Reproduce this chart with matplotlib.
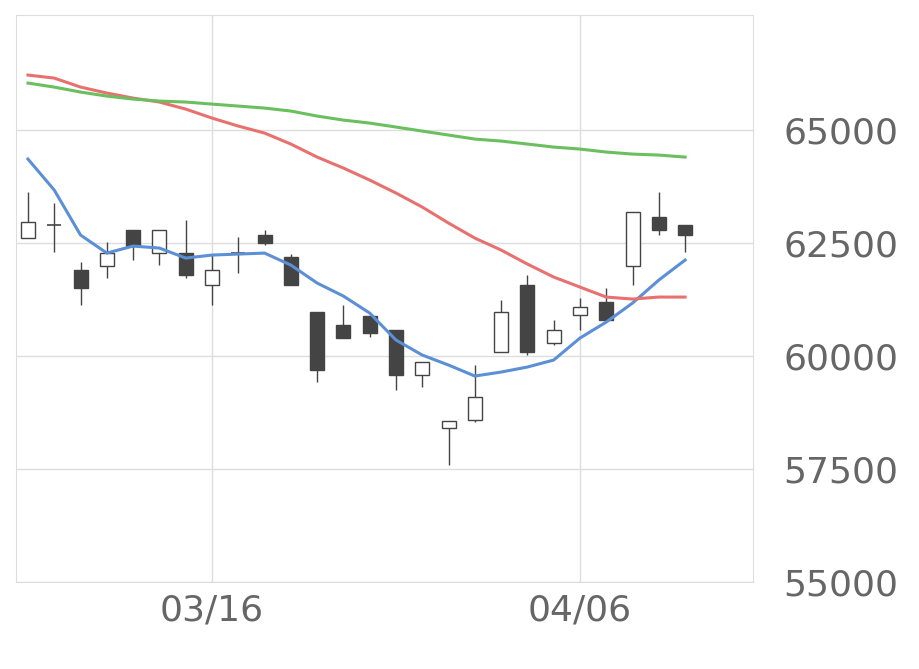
import matplotlib
matplotlib.use("Agg")
import matplotlib.pyplot as plt

opens  = [62610,62900,61900,61990,62790,62280,62280,61570,62280,62680,62190,60970,60680,60880,60570,59580,58410,58580,60090,61570,60290,60910,61190,61990,63070,62900]
closes = [62963,62900,61500,62280,62430,62790,61790,61900,62280,62500,61570,59690,60400,60510,59580,59870,58560,59090,60970,60090,60570,61080,60800,63180,62790,62680]
highs  = [63627,63380,62080,62520,62790,62790,63010,62230,62630,62790,62260,60970,61130,60880,60570,59870,58560,59800,61240,61790,60800,61280,61500,63180,63630,62900]
lows   = [62600,62300,61130,61720,62120,62010,61720,61130,61840,62450,61570,59420,60400,60420,59250,59310,57590,58540,60090,60020,60240,60570,60800,61570,62680,62300]
ma_short = [64357,63671,62676,62277,62432,62388,62167,62233,62255,62277,62012,61614,61326,60950,60353,60021,59800,59557,59645,59756,59911,60397,60751,61171,61680,62123]
ma_mid   = [66215,66148,65949,65817,65706,65618,65463,65264,65087,64932,64689,64401,64158,63892,63605,63295,62941,62609,62344,62034,61747,61525,61304,61260,61304,61304]
ma_long  = [66038,65949,65839,65750,65684,65640,65618,65573,65529,65485,65419,65308,65219,65153,65065,64976,64888,64799,64755,64689,64622,64578,64512,64467,64445,64401]
tick_idx = [7, 21]
tick_labels = ["03/16", "04/06"]
yticks = [55000, 57500, 60000, 62500, 65000]

fig = plt.figure(figsize=(9.2, 6.69), dpi=100)
ax = fig.add_axes([0.0174, 0.130, 0.801, 0.848])
x = list(range(len(opens)))
w = 0.53
for i in x:
    o, c, h, l = opens[i], closes[i], highs[i], lows[i]
    ax.vlines(i, l, h, color="#444444", lw=1, zorder=3)
    up = c >= o
    lo, hi = min(o, c), max(o, c)
    if hi - lo < 20:
        ax.hlines(o, i - w/2, i + w/2, color="#444444", lw=1.2, zorder=4)
    else:
        ax.bar(i, hi - lo, bottom=lo, width=w, color="white" if up else "#444444",
               edgecolor="#444444", lw=1, zorder=4)
ax.plot(x, ma_short, color="#5b8fd6", lw=2.2, zorder=5)
ax.plot(x, ma_mid, color="#e8716f", lw=2.2, zorder=5)
ax.plot(x, ma_long, color="#6abf5e", lw=2.2, zorder=5)

ax.set_xlim(-0.455, 27.58)
ax.set_ylim(55000, 67550)
ax.set_xticks(tick_idx)
ax.set_xticklabels(tick_labels)
ax.set_yticks(yticks)
ax.yaxis.tick_right()
ax.tick_params(axis="both", length=0, labelsize=26, labelcolor="#666666")
ax.tick_params(axis="y", pad=22)
ax.tick_params(axis="x", pad=8)
ax.grid(True, color="#dddddd", lw=1)
ax.set_axisbelow(True)
for s in ax.spines.values():
    s.set_color("#dddddd")
fig.savefig("out.png", dpi=100)
